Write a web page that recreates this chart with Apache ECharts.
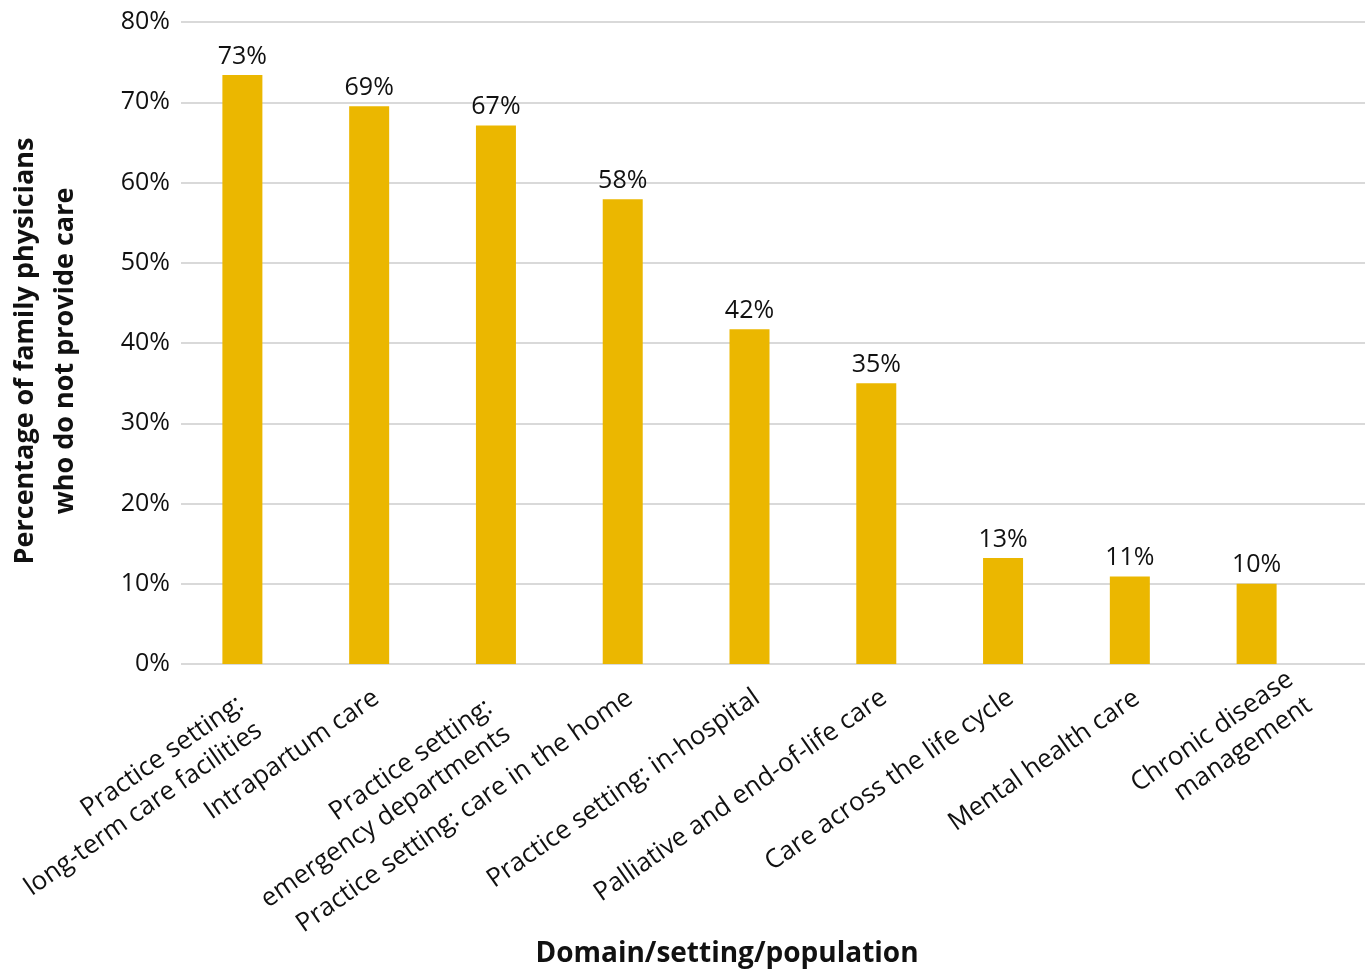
<!DOCTYPE html>
<html><head><meta charset="utf-8">
<script src="https://cdn.jsdelivr.net/npm/echarts@6/dist/echarts.min.js"></script>
<style>html,body{margin:0;padding:0;background:#fff}#c{width:1367px;height:969px}</style>
</head><body><div id="c"></div>
<script>
const categories = [
  "Practice setting:\nlong-term care facilities",
  "Intrapartum care",
  "Practice setting:\nemergency departments",
  "Practice setting: care in the home",
  "Practice setting: in-hospital",
  "Palliative and end-of-life care",
  "Care across the life cycle",
  "Mental health care",
  "Chronic disease\nmanagement"
];
const values = [73.4, 69.5, 67.1, 57.9, 41.7, 35.0, 13.2, 10.9, 10.0];
const labels = ["73%", "69%", "67%", "58%", "42%", "35%", "13%", "11%", "10%"];
const yTicks = [0, 10, 20, 30, 40, 50, 60, 70, 80];

const font = "'Open Sans', 'Noto Sans', sans-serif";
const catSize = 26;
const tickSize = 25;
const lineH = 32;

// Rotated category labels: lines right-aligned; wrapped labels are shifted along
// their baseline depending on their width (as in the source chart).
const ctx = document.createElement('canvas').getContext('2d');
ctx.font = catSize + "px 'Open Sans'";
const rich = {};
const fmt = {};
categories.forEach((c, i) => {
  const lines = c.split('\n');
  const ws = lines.map(l => ctx.measureText(l).width);
  const W = Math.max(...ws);
  const s = lines.length > 1 ? 32 - 0.47 * (W - 188) : -2;
  fmt[c] = lines.map((l, j) => {
    let out = '';
    const gap = Math.round(W - ws[j]);
    if (gap > 0) {
      const sp = 's' + i + '_' + j;
      rich[sp] = { width: gap, align: 'left', fontSize: catSize, lineHeight: lineH, color: 'rgba(0,0,0,0)' };
      out += '{' + sp + '| }';
    }
    const key = 't' + i + '_' + j;
    rich[key] = { width: Math.round(ws[j] - s), align: 'left', fontSize: catSize, lineHeight: lineH, color: '#111', fontFamily: font };
    return out + '{' + key + '|' + l + '}';
  }).join('\n');
});

const chart = echarts.init(document.getElementById('c'));
chart.setOption({
  animation: false,
  textStyle: { fontFamily: font },
  title: {
    text: "Domain/setting/population",
    left: 722, top: 935, textAlign: 'center',
    textStyle: { fontFamily: font, fontWeight: 'bold', fontSize: 28, color: '#111' }
  },
  grid: [
    { left: 181, right: 2, top: 22, bottom: 305, outerBoundsMode: 'none', containLabel: false },
    { left: 179, right: 47, top: 22, bottom: 305, outerBoundsMode: 'none', containLabel: false }
  ],
  xAxis: [
    { gridIndex: 0, type: 'value', min: 0, max: 1, show: false },
    {
      gridIndex: 1,
      type: 'category',
      data: categories,
      axisLine: { show: false },
      axisTick: { show: false },
      axisLabel: {
        interval: 0, rotate: 35, fontSize: catSize, color: '#111', fontFamily: font,
        margin: 17, lineHeight: lineH, align: 'right', verticalAlign: 'top', rich: rich,
        formatter: v => fmt[v]
      }
    }
  ],
  yAxis: [
    {
      gridIndex: 0,
      type: 'value', min: yTicks[0], max: yTicks[yTicks.length - 1], interval: 10,
      name: "Percentage of family physicians\nwho do not provide care",
      nameLocation: 'middle', nameGap: 96, nameRotate: 90,
      nameTextStyle: { fontSize: 27, fontWeight: 'bold', color: '#111', lineHeight: 40, fontFamily: font, padding: [0, 16, 0, 0] },
      axisLine: { show: false }, axisTick: { show: false },
      axisLabel: { formatter: v => v + '%', fontSize: tickSize, color: '#111', margin: 11, fontFamily: font },
      splitLine: { lineStyle: { color: '#d9d9d9', width: 2 } }
    },
    {
      gridIndex: 1,
      type: 'value', min: yTicks[0], max: yTicks[yTicks.length - 1], interval: 10,
      show: false, splitLine: { show: false }
    }
  ],
  series: [{
    type: 'bar', xAxisIndex: 1, yAxisIndex: 1, data: values, barWidth: 40,
    itemStyle: { color: '#EBB700' },
    label: {
      show: true, position: 'top', distance: 6, fontSize: tickSize, color: '#111', fontFamily: font,
      formatter: p => labels[p.dataIndex]
    }
  }]
});
</script></body></html>
